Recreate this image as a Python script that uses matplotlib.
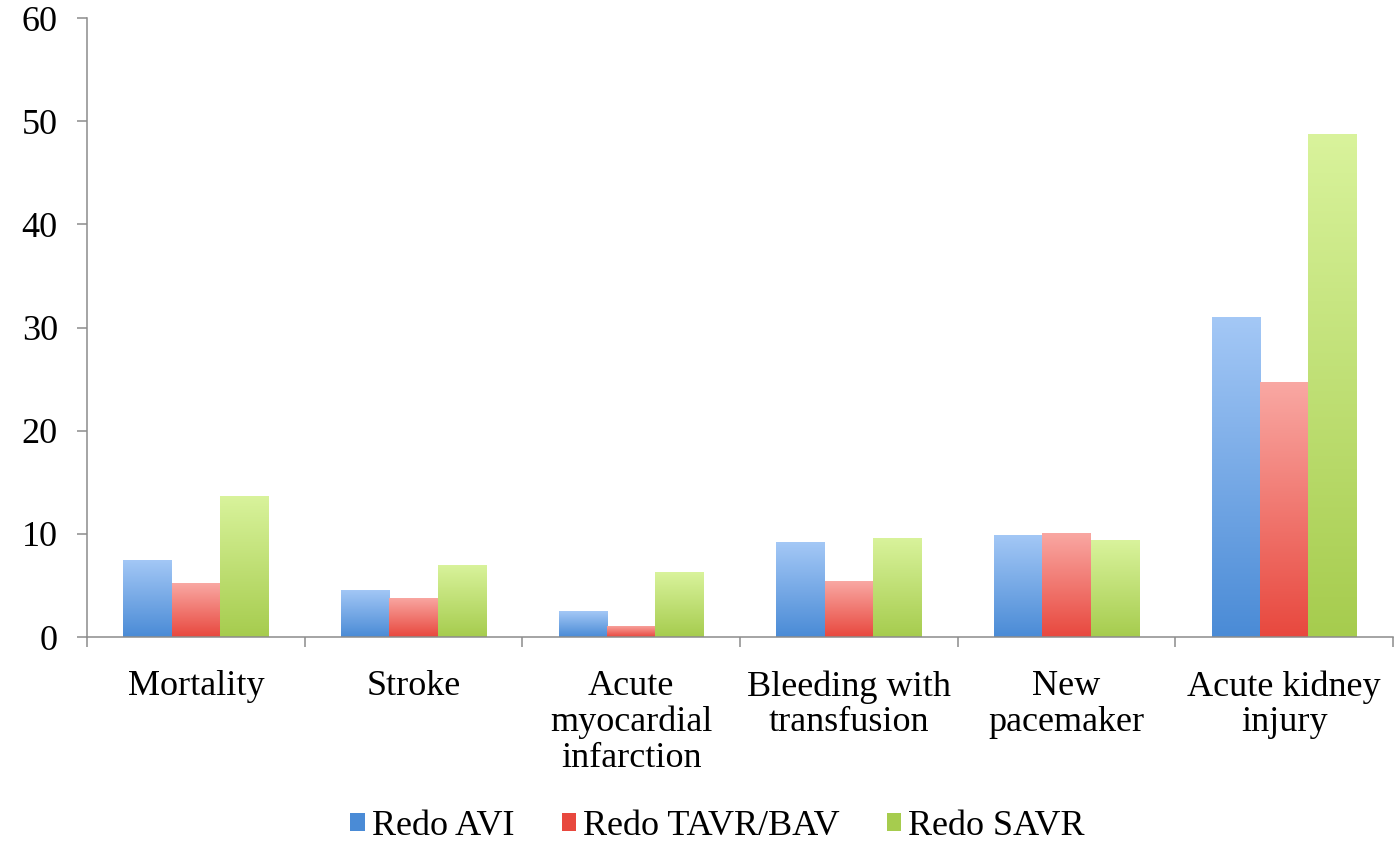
import numpy as np
import matplotlib
matplotlib.use("Agg")
import matplotlib.pyplot as plt
from matplotlib.colors import LinearSegmentedColormap
from matplotlib.patches import Patch

# Outcome categories and rates (%)
categorie = ["Mortality", "Stroke", "Acute\nmyocardial\ninfarction",
             "Bleeding with\ntransfusion", "New\npacemaker", "Acute kidney\ninjury"]
redo_avi = [7.5, 4.6, 2.5, 9.2, 9.9, 31.0]
redo_tavr_bav = [5.2, 3.8, 1.1, 5.4, 10.1, 24.7]
redo_savr = [13.7, 7.0, 6.3, 9.6, 9.4, 48.8]
serie_nomi = ["Redo AVI", "Redo TAVR/BAV", "Redo SAVR"]

# colori sfumati (basso, alto) per ogni serie
colori = [("#4a8bd6", "#a4c8f6"),
          ("#e8483e", "#f9a8a3"),
          ("#a6cc4e", "#d9f39c")]

plt.rcParams['font.family'] = ['Liberation Serif', 'DejaVu Serif']
plt.rcParams['font.size'] = 26

fig = plt.figure(figsize=(13.99, 8.47), dpi=100)
ax = fig.add_axes([0.0622, 0.2479, 0.9335, 0.7308])

x = np.arange(len(categorie))
larg = 1 / 4.5
gradiente = np.linspace(0, 1, 256).reshape(-1, 1)

for i, (valori, (c_bot, c_top)) in enumerate(zip([redo_avi, redo_tavr_bav, redo_savr], colori)):
    offset = (i - 1) * larg
    barre = ax.bar(x + offset, valori, larg, color='none', edgecolor='none', zorder=2)
    cmap = LinearSegmentedColormap.from_list(serie_nomi[i], [c_bot, c_top])
    for b in barre:
        x0, h = b.get_x(), b.get_height()
        im = ax.imshow(gradiente, cmap=cmap, origin='lower', aspect='auto',
                       extent=[x0, x0 + b.get_width(), 0, h], zorder=2)
        im.set_clip_path(b)

ax.set_xlim(-0.5, len(categorie) - 0.5)
ax.set_ylim(0, 60)
ax.set_yticks(range(0, 61, 10))

# tacche ai confini delle categorie, etichette al centro
ax.set_xticks(np.arange(-0.5, len(categorie), 1.0))
ax.set_xticklabels([])
ax.set_xticks(x, minor=True)
ax.set_xticklabels(categorie, minor=True, linespacing=1.1, va='top')
ax.tick_params(axis='x', which='minor', length=0, pad=24)
ax.tick_params(axis='x', which='major', length=7, width=1.1, color='#8c8c8c', direction='out')
ax.tick_params(axis='y', length=7, width=1.1, color='#8c8c8c', direction='out', pad=14)

for lato in ['top', 'right']:
    ax.spines[lato].set_visible(False)
for lato in ['left', 'bottom']:
    ax.spines[lato].set_color('#8c8c8c')
    ax.spines[lato].set_linewidth(1.1)

maniglie = [Patch(facecolor=c[0], edgecolor='none') for c in colori]
fig.legend(maniglie, serie_nomi, loc='center', bbox_to_anchor=(0.513, 0.024), ncol=3,
           frameon=False, handlelength=0.4, handleheight=0.4, handletextpad=0.2,
           columnspacing=1.3, borderaxespad=0, borderpad=0)

fig.savefig("out.png", dpi=100)
